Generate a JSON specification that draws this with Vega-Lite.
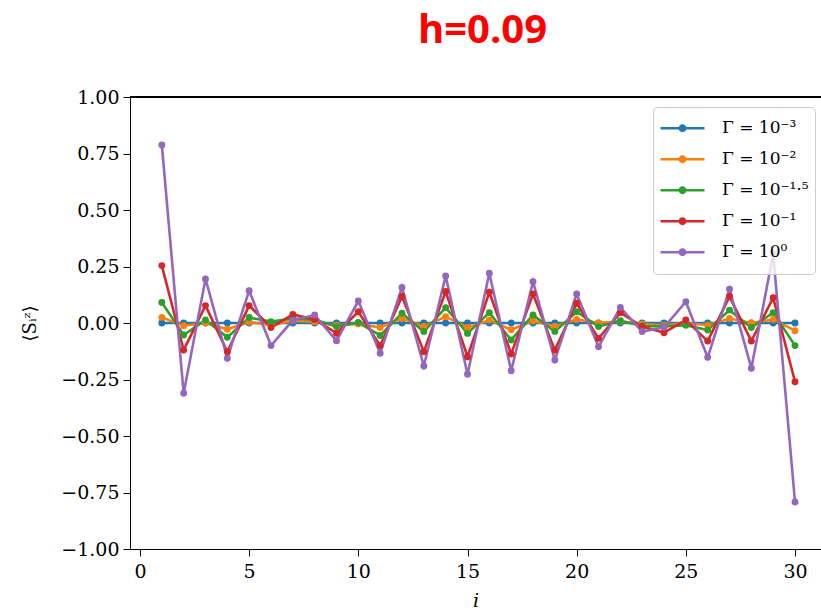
{
  "$schema": "https://vega.github.io/schema/vega-lite/v6.json",
  "autosize": "none",
  "width": 691,
  "height": 452,
  "padding": {"left": 130, "top": 97, "right": 0, "bottom": 62},
  "background": "white",
  "title": {"text": "h=0.09", "color": "#ff0000", "font": "Open Sans", "fontSize": 40, "fontWeight": "bold", "anchor": "middle", "baseline": "alphabetic", "offset": 5, "dx": 7},
  "config": {
    "view": {"stroke": null},
    "axis": {"grid": false, "domainColor": "black", "tickColor": "black", "labelColor": "black", "titleColor": "black", "labelFont": "DejaVu Serif", "labelFontSize": 19, "tickSize": 7, "labelPadding": 4, "titleFont": "DejaVu Serif", "titleFontWeight": "normal"}
  },
  "datasets": {
    "spin": [
      {"i":1,"g":"Γ = 10⁻³","s":0},{"i":2,"g":"Γ = 10⁻³","s":0},{"i":3,"g":"Γ = 10⁻³","s":0},{"i":4,"g":"Γ = 10⁻³","s":0},{"i":5,"g":"Γ = 10⁻³","s":0},{"i":6,"g":"Γ = 10⁻³","s":0},{"i":7,"g":"Γ = 10⁻³","s":0},{"i":8,"g":"Γ = 10⁻³","s":0},{"i":9,"g":"Γ = 10⁻³","s":0},{"i":10,"g":"Γ = 10⁻³","s":0},
      {"i":11,"g":"Γ = 10⁻³","s":0},{"i":12,"g":"Γ = 10⁻³","s":0},{"i":13,"g":"Γ = 10⁻³","s":0},{"i":14,"g":"Γ = 10⁻³","s":0},{"i":15,"g":"Γ = 10⁻³","s":0},{"i":16,"g":"Γ = 10⁻³","s":0},{"i":17,"g":"Γ = 10⁻³","s":0},{"i":18,"g":"Γ = 10⁻³","s":0},{"i":19,"g":"Γ = 10⁻³","s":0},{"i":20,"g":"Γ = 10⁻³","s":0},
      {"i":21,"g":"Γ = 10⁻³","s":0},{"i":22,"g":"Γ = 10⁻³","s":0},{"i":23,"g":"Γ = 10⁻³","s":0},{"i":24,"g":"Γ = 10⁻³","s":0},{"i":25,"g":"Γ = 10⁻³","s":0},{"i":26,"g":"Γ = 10⁻³","s":0},{"i":27,"g":"Γ = 10⁻³","s":0},{"i":28,"g":"Γ = 10⁻³","s":0},{"i":29,"g":"Γ = 10⁻³","s":0},{"i":30,"g":"Γ = 10⁻³","s":0},
      {"i":1,"g":"Γ = 10⁻²","s":0.025},{"i":2,"g":"Γ = 10⁻²","s":-0.012},{"i":3,"g":"Γ = 10⁻²","s":0.0},{"i":4,"g":"Γ = 10⁻²","s":-0.028},{"i":5,"g":"Γ = 10⁻²","s":0.004},{"i":6,"g":"Γ = 10⁻²","s":-0.01},{"i":7,"g":"Γ = 10⁻²","s":0.01},{"i":8,"g":"Γ = 10⁻²","s":0.006},{"i":9,"g":"Γ = 10⁻²","s":-0.01},{"i":10,"g":"Γ = 10⁻²","s":-0.004},
      {"i":11,"g":"Γ = 10⁻²","s":-0.02},{"i":12,"g":"Γ = 10⁻²","s":0.02},{"i":13,"g":"Γ = 10⁻²","s":-0.015},{"i":14,"g":"Γ = 10⁻²","s":0.028},{"i":15,"g":"Γ = 10⁻²","s":-0.02},{"i":16,"g":"Γ = 10⁻²","s":0.013},{"i":17,"g":"Γ = 10⁻²","s":-0.03},{"i":18,"g":"Γ = 10⁻²","s":0.01},{"i":19,"g":"Γ = 10⁻²","s":-0.015},{"i":20,"g":"Γ = 10⁻²","s":0.016},
      {"i":21,"g":"Γ = 10⁻²","s":0.0},{"i":22,"g":"Γ = 10⁻²","s":0.008},{"i":23,"g":"Γ = 10⁻²","s":-0.005},{"i":24,"g":"Γ = 10⁻²","s":-0.01},{"i":25,"g":"Γ = 10⁻²","s":0.0},{"i":26,"g":"Γ = 10⁻²","s":-0.01},{"i":27,"g":"Γ = 10⁻²","s":0.02},{"i":28,"g":"Γ = 10⁻²","s":0.0},{"i":29,"g":"Γ = 10⁻²","s":0.016},{"i":30,"g":"Γ = 10⁻²","s":-0.034},
      {"i":1,"g":"Γ = 10⁻¹·⁵","s":0.091},{"i":2,"g":"Γ = 10⁻¹·⁵","s":-0.053},{"i":3,"g":"Γ = 10⁻¹·⁵","s":0.013},{"i":4,"g":"Γ = 10⁻¹·⁵","s":-0.063},{"i":5,"g":"Γ = 10⁻¹·⁵","s":0.024},{"i":6,"g":"Γ = 10⁻¹·⁵","s":0.006},{"i":7,"g":"Γ = 10⁻¹·⁵","s":0.02},{"i":8,"g":"Γ = 10⁻¹·⁵","s":0.015},{"i":9,"g":"Γ = 10⁻¹·⁵","s":-0.016},{"i":10,"g":"Γ = 10⁻¹·⁵","s":0.002},
      {"i":11,"g":"Γ = 10⁻¹·⁵","s":-0.055},{"i":12,"g":"Γ = 10⁻¹·⁵","s":0.043},{"i":13,"g":"Γ = 10⁻¹·⁵","s":-0.038},{"i":14,"g":"Γ = 10⁻¹·⁵","s":0.068},{"i":15,"g":"Γ = 10⁻¹·⁵","s":-0.046},{"i":16,"g":"Γ = 10⁻¹·⁵","s":0.046},{"i":17,"g":"Γ = 10⁻¹·⁵","s":-0.075},{"i":18,"g":"Γ = 10⁻¹·⁵","s":0.035},{"i":19,"g":"Γ = 10⁻¹·⁵","s":-0.038},{"i":20,"g":"Γ = 10⁻¹·⁵","s":0.05},
      {"i":21,"g":"Γ = 10⁻¹·⁵","s":-0.016},{"i":22,"g":"Γ = 10⁻¹·⁵","s":0.01},{"i":23,"g":"Γ = 10⁻¹·⁵","s":-0.013},{"i":24,"g":"Γ = 10⁻¹·⁵","s":-0.015},{"i":25,"g":"Γ = 10⁻¹·⁵","s":-0.01},{"i":26,"g":"Γ = 10⁻¹·⁵","s":-0.031},{"i":27,"g":"Γ = 10⁻¹·⁵","s":0.057},{"i":28,"g":"Γ = 10⁻¹·⁵","s":-0.02},{"i":29,"g":"Γ = 10⁻¹·⁵","s":0.046},{"i":30,"g":"Γ = 10⁻¹·⁵","s":-0.1},
      {"i":1,"g":"Γ = 10⁻¹","s":0.254},{"i":2,"g":"Γ = 10⁻¹","s":-0.12},{"i":3,"g":"Γ = 10⁻¹","s":0.077},{"i":4,"g":"Γ = 10⁻¹","s":-0.127},{"i":5,"g":"Γ = 10⁻¹","s":0.077},{"i":6,"g":"Γ = 10⁻¹","s":-0.02},{"i":7,"g":"Γ = 10⁻¹","s":0.038},{"i":8,"g":"Γ = 10⁻¹","s":0.016},{"i":9,"g":"Γ = 10⁻¹","s":-0.045},{"i":10,"g":"Γ = 10⁻¹","s":0.05},
      {"i":11,"g":"Γ = 10⁻¹","s":-0.1},{"i":12,"g":"Γ = 10⁻¹","s":0.117},{"i":13,"g":"Γ = 10⁻¹","s":-0.127},{"i":14,"g":"Γ = 10⁻¹","s":0.139},{"i":15,"g":"Γ = 10⁻¹","s":-0.149},{"i":16,"g":"Γ = 10⁻¹","s":0.136},{"i":17,"g":"Γ = 10⁻¹","s":-0.137},{"i":18,"g":"Γ = 10⁻¹","s":0.128},{"i":19,"g":"Γ = 10⁻¹","s":-0.12},{"i":20,"g":"Γ = 10⁻¹","s":0.087},
      {"i":21,"g":"Γ = 10⁻¹","s":-0.068},{"i":22,"g":"Γ = 10⁻¹","s":0.046},{"i":23,"g":"Γ = 10⁻¹","s":-0.016},{"i":24,"g":"Γ = 10⁻¹","s":-0.043},{"i":25,"g":"Γ = 10⁻¹","s":0.013},{"i":26,"g":"Γ = 10⁻¹","s":-0.08},{"i":27,"g":"Γ = 10⁻¹","s":0.117},{"i":28,"g":"Γ = 10⁻¹","s":-0.08},{"i":29,"g":"Γ = 10⁻¹","s":0.112},{"i":30,"g":"Γ = 10⁻¹","s":-0.26},
      {"i":1,"g":"Γ = 10⁰","s":0.788},{"i":2,"g":"Γ = 10⁰","s":-0.311},{"i":3,"g":"Γ = 10⁰","s":0.195},{"i":4,"g":"Γ = 10⁰","s":-0.156},{"i":5,"g":"Γ = 10⁰","s":0.143},{"i":6,"g":"Γ = 10⁰","s":-0.1},{"i":7,"g":"Γ = 10⁰","s":0.012},{"i":8,"g":"Γ = 10⁰","s":0.035},{"i":9,"g":"Γ = 10⁰","s":-0.078},{"i":10,"g":"Γ = 10⁰","s":0.097},
      {"i":11,"g":"Γ = 10⁰","s":-0.134},{"i":12,"g":"Γ = 10⁰","s":0.157},{"i":13,"g":"Γ = 10⁰","s":-0.19},{"i":14,"g":"Γ = 10⁰","s":0.208},{"i":15,"g":"Γ = 10⁰","s":-0.227},{"i":16,"g":"Γ = 10⁰","s":0.22},{"i":17,"g":"Γ = 10⁰","s":-0.211},{"i":18,"g":"Γ = 10⁰","s":0.183},{"i":19,"g":"Γ = 10⁰","s":-0.164},{"i":20,"g":"Γ = 10⁰","s":0.128},
      {"i":21,"g":"Γ = 10⁰","s":-0.105},{"i":22,"g":"Γ = 10⁰","s":0.069},{"i":23,"g":"Γ = 10⁰","s":-0.038},{"i":24,"g":"Γ = 10⁰","s":-0.019},{"i":25,"g":"Γ = 10⁰","s":0.094},{"i":26,"g":"Γ = 10⁰","s":-0.152},{"i":27,"g":"Γ = 10⁰","s":0.149},{"i":28,"g":"Γ = 10⁰","s":-0.2},{"i":29,"g":"Γ = 10⁰","s":0.305},{"i":30,"g":"Γ = 10⁰","s":-0.792}
    ]
  },
  "data": {"name": "spin"},
  "layer": [
    {
      "mark": {"type": "rule", "color": "black", "strokeWidth": 1},
      "encoding": {"y": {"datum": 1, "type": "quantitative"}}
    },
    {
      "mark": {"type": "line", "strokeWidth": 2.6, "point": {"filled": true, "size": 48, "opacity": 1}},
      "encoding": {
        "x": {"field": "i", "type": "quantitative",
              "scale": {"domain": [-0.458, 31.19], "nice": false, "zero": false},
              "axis": {"values": [0, 5, 10, 15, 20, 25, 30], "format": "d", "labelPadding": 6, "title": "i", "titleFontStyle": "italic", "titleFontSize": 19, "titleBaseline": "alphabetic", "titleY": 57}},
        "y": {"field": "s", "type": "quantitative",
              "scale": {"domain": [-1, 1], "nice": false},
              "axis": {"values": [-1, -0.75, -0.5, -0.25, 0, 0.25, 0.5, 0.75, 1], "format": ".2f", "title": "⟨Sᵢᶻ⟩", "titleFontSize": 18, "titleX": -100, "titleY": 226, "titleAngle": 270, "titleAlign": "center", "titleBaseline": "middle"}},
        "color": {"field": "g", "type": "nominal",
                  "scale": {"domain": ["Γ = 10⁻³", "Γ = 10⁻²", "Γ = 10⁻¹·⁵", "Γ = 10⁻¹", "Γ = 10⁰"], "range": ["#1f77b4", "#ff7f0e", "#2ca02c", "#d62728", "#9467bd"]},
                  "legend": {"title": null, "orient": "none", "legendX": 523, "legendY": 10,
                             "symbolType": "M-1,0L1,0M-0.12,0A0.12,0.12,0,1,1,0.12,0A0.12,0.12,0,1,1,-0.12,0Z",
                             "symbolSize": 1936, "symbolStrokeWidth": 2.6, "clipHeight": 30.4, "rowPadding": 0,
                             "labelFont": "DejaVu Serif", "labelFontSize": 17, "labelColor": "black", "labelOffset": 16, "labelLimit": 300,
                             "padding": 6, "strokeColor": "#cccccc", "cornerRadius": 4, "fillColor": "rgba(255,255,255,0.8)",
                             "encode": {"symbols": {"update": {"fill": {"scale": "color", "field": "value"}, "stroke": {"scale": "color", "field": "value"}, "opacity": {"value": 1}}}}}}
      }
    }
  ]
}
